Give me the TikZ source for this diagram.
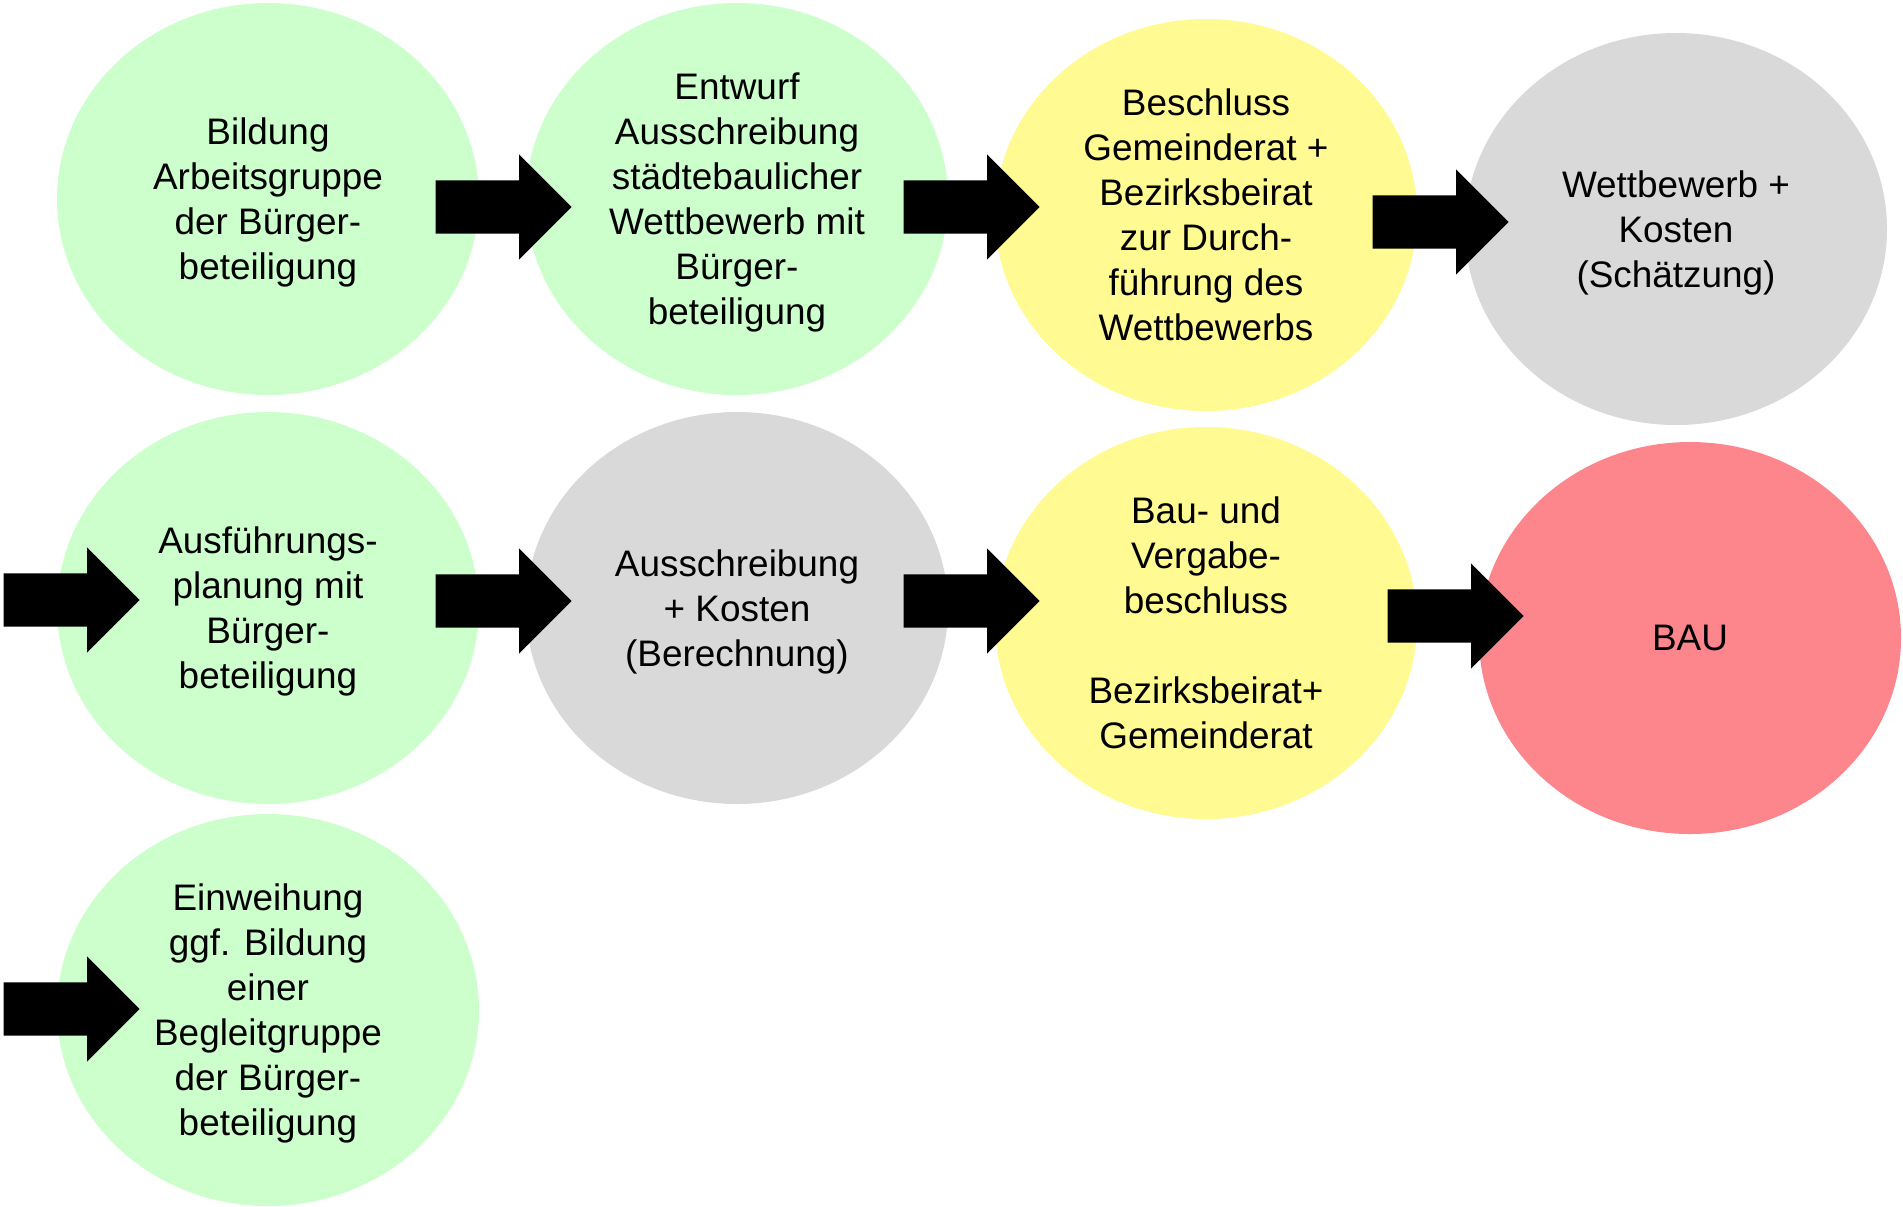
\documentclass[tikz,border=0pt]{standalone}
\usepackage{fontspec}
\setmainfont{Liberation Sans}
\usepackage{tikz}
\usetikzlibrary{shapes,arrows,positioning}

\definecolor{gruen}{HTML}{CCFFCC}
\definecolor{gelb}{RGB}{255,250,145}
\definecolor{grau}{HTML}{D9D9D9}
\definecolor{rot}{RGB}{252,134,140}

\begin{document}
\begin{tikzpicture}[
    phase/.style={ellipse, draw=none, fill=gruen, minimum width=4.22cm, minimum height=3.92cm, inner sep=0pt, align=center, font=\fontsize{10.5}{12.8}\selectfont, text depth=-0.8pt},
    pfeil/.style={single arrow, draw=none, fill=black, minimum height=1.36cm, minimum width=1.04cm, single arrow head extend=0.26cm, single arrow tip angle=90, inner sep=0.26cm, anchor=tail}
]
    \useasboundingbox (0,0) rectangle (19.03,-12.06);

    % Zeile 1
    \node[phase] (bildung) at (2.68,-1.99) {Bildung\\Arbeitsgruppe\\der Bürger-\\beteiligung};
    \node[phase] (entwurf) at (7.37,-1.99) {Entwurf\\Ausschreibung\\städtebaulicher\\Wettbewerb mit\\Bürger-\\beteiligung};
    \node[phase, fill=gelb] (beschluss) at (12.06,-2.15) {Beschluss\\Gemeinderat +\\Bezirksbeirat\\zur Durch-\\führung des\\Wettbewerbs};
    \node[phase, fill=grau] (wettbewerb) at (16.76,-2.29) {Wettbewerb +\\Kosten\\(Schätzung)};

    % Zeile 2
    \node[phase] (ausfuehrung) at (2.68,-6.08) {Ausführungs-\\planung mit\\Bürger-\\beteiligung};
    \node[phase, fill=grau] (ausschreibung) at (7.37,-6.08) {Ausschreibung\\+ Kosten\\(Berechnung)};
    \node[phase, fill=gelb] (vergabe) at (12.06,-6.23) {Bau- und\\Vergabe-\\beschluss\\~\\Bezirksbeirat+\\Gemeinderat};
    \node[phase, fill=rot] (bau) at (16.90,-6.38) {BAU};

    % Zeile 3
    \node[phase] (einweihung) at (2.68,-10.10) {Einweihung\\ggf. Bildung\\einer\\Begleitgruppe\\der Bürger-\\beteiligung};

    % Pfeile
    \node[pfeil] (p1) at (4.35,-2.07) {};
    \node[pfeil] (p2) at (9.03,-2.07) {};
    \node[pfeil] (p3) at (13.72,-2.22) {};
    \node[pfeil] (p4) at (0.03,-6.00) {};
    \node[pfeil] (p5) at (4.35,-6.01) {};
    \node[pfeil] (p6) at (9.03,-6.01) {};
    \node[pfeil] (p7) at (13.87,-6.16) {};
    \node[pfeil] (p8) at (0.03,-10.09) {};

\end{tikzpicture}
\end{document}
